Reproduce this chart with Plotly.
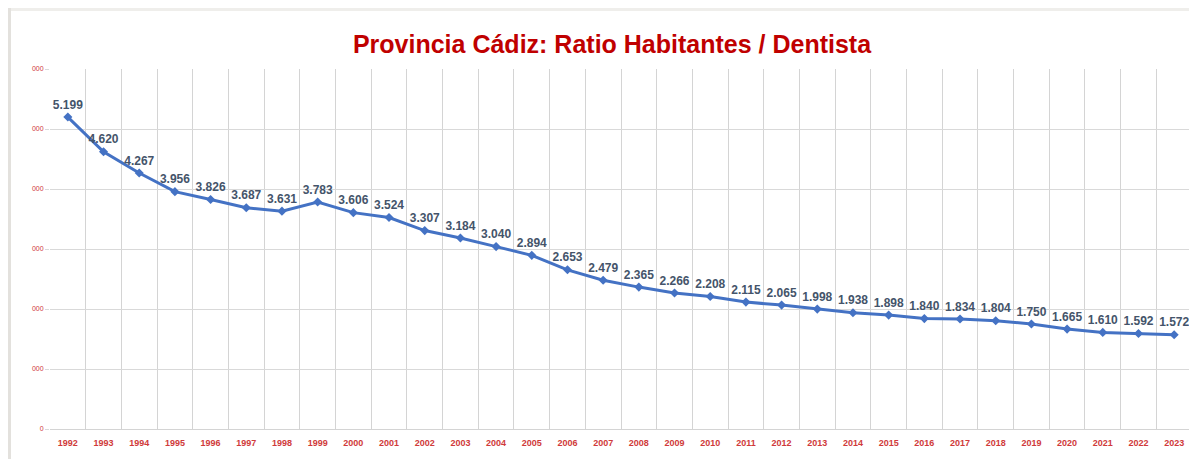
import plotly.graph_objects as go

years = [str(y) for y in range(1992, 2024)]
ratio = [5199, 4620, 4267, 3956, 3826, 3687, 3631, 3783, 3606, 3524, 3307, 3184,
         3040, 2894, 2653, 2479, 2365, 2266, 2208, 2115, 2065, 1998, 1938, 1898,
         1840, 1834, 1804, 1750, 1665, 1610, 1592, 1572]
y_tickvals = [0, 1000, 2000, 3000, 4000, 5000, 6000]
y_ticktext = ["0", "000", "000", "000", "000", "000", "000"]

labels = [f"{v:,}".replace(",", ".") for v in ratio]

W, H = 1189, 451
ML, MR, MT, MB = 42, 5, 61, 30
PW, PH = W - ML - MR, H - MT - MB

fig = go.Figure()
fig.add_trace(go.Scatter(
    x=years, y=ratio, mode="lines+markers+text",
    line=dict(color="#4472C4", width=3),
    marker=dict(symbol="diamond", size=7, color="#4472C4"),
    text=labels, textposition="top center",
    textfont=dict(family="Liberation Sans", size=12, color="#44546A", weight="bold"),
    cliponaxis=False, showlegend=False,
))

fig.update_layout(
    width=W, height=H,
    margin=dict(l=ML, r=MR, t=MT, b=MB),
    paper_bgcolor="white", plot_bgcolor="white",
    title=dict(text="<b>Provincia Cádiz: Ratio Habitantes / Dentista</b>",
               x=0.508, xanchor="center", y=1 - 36 / H, yanchor="middle",
               font=dict(family="Liberation Sans", size=25, color="#C00000")),
    xaxis=dict(type="category", range=[-0.5, 31.5], tickson="boundaries",
               showgrid=True, gridcolor="#D4D4D4", gridwidth=1,
               showline=True, linecolor="#D4D4D4", ticks="", ticklabelstandoff=5,
               tickfont=dict(family="Liberation Sans", size=9, color="#D03A3A", weight="bold")),
    yaxis=dict(range=[0, 6000], tickvals=y_tickvals, ticktext=y_ticktext,
               showgrid=True, gridcolor="#D9D9D9", gridwidth=1, zeroline=False,
               ticks="outside", ticklen=4, tickcolor="#D9D9D9",
               tickfont=dict(family="Liberation Sans", size=7, color="#D03A3A")),
    shapes=[
        dict(type="rect", xref="paper", yref="paper", x0=-0.05, x1=1.01,
             y0=1 + (MT - 3) / PH, y1=1.25, fillcolor="#EFEEEB", line=dict(width=0), layer="below"),
        dict(type="rect", xref="paper", yref="paper", x0=-0.05, x1=-(ML - 3) / PW,
             y0=-0.2, y1=1.25, fillcolor="#E3E1DD", line=dict(width=0), layer="below"),
    ],
)

fig.write_html("out.html")
